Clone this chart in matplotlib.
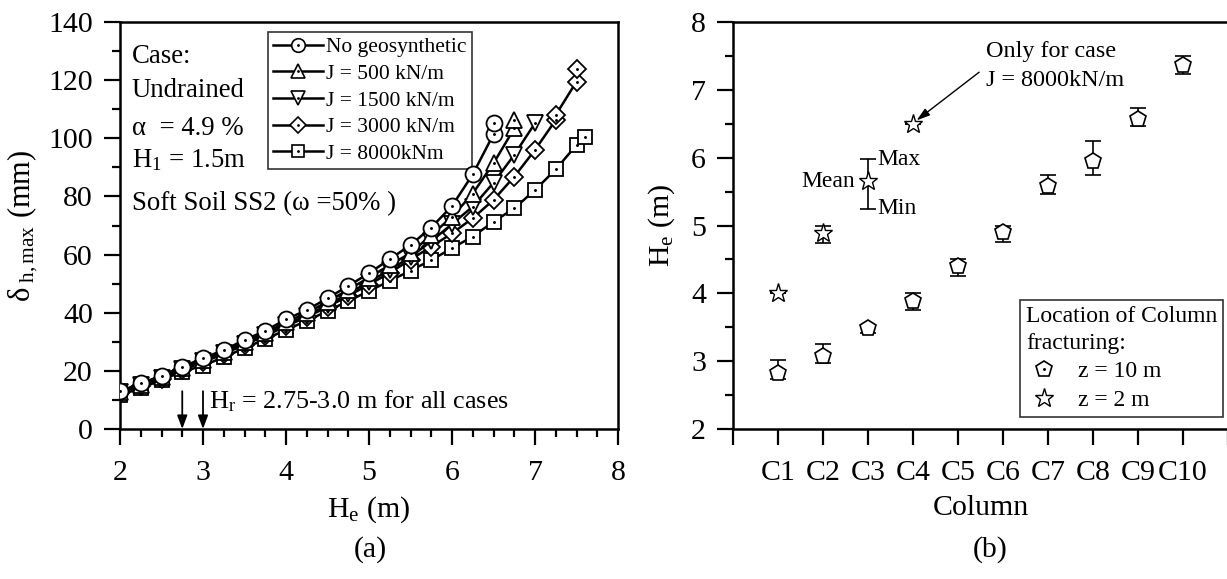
import matplotlib
matplotlib.use('Agg')
import matplotlib.pyplot as plt
from matplotlib.lines import Line2D
from matplotlib.ticker import MultipleLocator, FixedLocator

plt.rcParams['font.family'] = ['Liberation Serif', 'DejaVu Serif']
plt.rcParams['mathtext.fontset'] = 'custom'
plt.rcParams['mathtext.rm'] = 'Liberation Serif'
plt.rcParams['mathtext.it'] = 'Liberation Serif:italic'
plt.rcParams['mathtext.default'] = 'regular'

# ---------------- data: panel (a) ----------------
he_none = [2.0, 2.25, 2.5, 2.75, 3.0, 3.25, 3.5, 3.75, 4.0, 4.25, 4.5, 4.75, 5.0,
           5.25, 5.5, 5.75, 6.0, 6.25, 6.5, 6.5]
d_none = [13.0, 15.7, 18.3, 21.4, 24.3, 27.2, 30.6, 33.8, 37.7, 40.9, 45.0, 49.2,
          53.6, 58.4, 63.3, 69.3, 76.7, 87.6, 101.4, 105.4]

he_j500 = [2.0, 2.25, 2.5, 2.75, 3.0, 3.25, 3.5, 3.75, 4.0, 4.25, 4.5, 4.75, 5.0,
           5.25, 5.5, 5.75, 6.0, 6.25, 6.5, 6.75, 6.75]
d_j500 = [12.8, 15.3, 17.8, 20.9, 23.7, 26.6, 29.9, 33.0, 36.7, 39.9, 43.8, 47.9,
          52.1, 56.4, 60.5, 66.7, 73.0, 81.0, 91.4, 103.4, 106.3]

he_j1500 = [2.0, 2.25, 2.5, 2.75, 3.0, 3.25, 3.5, 3.75, 4.0, 4.25, 4.5, 4.75, 5.0,
            5.25, 5.5, 5.75, 6.0, 6.25, 6.5, 6.75, 7.0]
d_j1500 = [12.6, 15.0, 17.5, 20.5, 23.3, 26.1, 29.3, 32.4, 35.9, 39.0, 42.7, 46.6,
           50.6, 54.7, 59.2, 64.6, 70.5, 76.5, 84.7, 94.3, 105.2]

he_j3000 = [2.0, 2.25, 2.5, 2.75, 3.0, 3.25, 3.5, 3.75, 4.0, 4.25, 4.5, 4.75, 5.0,
            5.25, 5.5, 5.75, 6.0, 6.25, 6.5, 6.75, 7.0, 7.25, 7.25, 7.5, 7.5]
d_j3000 = [12.5, 14.8, 17.2, 20.2, 23.0, 25.8, 29.0, 32.0, 35.4, 38.5, 42.0, 45.8,
           49.7, 53.7, 58.3, 62.7, 67.3, 72.5, 78.8, 86.8, 96.0, 106.3, 108.0,
           119.5, 123.7]

he_j8000 = [2.0, 2.25, 2.5, 2.75, 3.0, 3.25, 3.5, 3.75, 4.0, 4.25, 4.5, 4.75, 5.0,
            5.25, 5.5, 5.75, 6.0, 6.25, 6.5, 6.75, 7.0, 7.25, 7.5, 7.6]
d_j8000 = [11.7, 14.0, 16.9, 19.7, 21.8, 24.7, 27.8, 30.9, 34.1, 37.2, 40.6, 44.0,
           47.5, 50.9, 54.5, 58.1, 62.2, 66.2, 71.3, 75.9, 82.2, 89.3, 97.7, 100.3]

series_labels = ['No geosynthetic', 'J = 500 kN/m', 'J = 1500 kN/m',
                 'J = 3000 kN/m', 'J = 8000kNm']
hr_values = [2.75, 3.0]

# ---------------- data: panel (b) ----------------
columns = ['C1', 'C2', 'C3', 'C4', 'C5', 'C6', 'C7', 'C8', 'C9', 'C10']
he10_mean = [2.83, 3.08, 3.49, 3.89, 4.40, 4.90, 5.58, 5.95, 6.57, 7.37]
he10_max = [3.01, 3.25, 3.50, 4.00, 4.51, 5.00, 5.75, 6.24, 6.73, 7.50]
he10_min = [2.73, 2.98, 3.42, 3.76, 4.26, 4.75, 5.46, 5.75, 6.46, 7.24]

columns_z2 = ['C1', 'C2', 'C3', 'C4']
he2_mean = [4.01, 4.89, 5.65, 6.49]
he2_max = [4.01, 4.99, 5.98, 6.49]
he2_min = [4.01, 4.74, 5.25, 6.49]

# ---------------- figure ----------------
W, H = 1227, 579
fig = plt.figure(figsize=(W / 100, H / 100), dpi=100)


def box(l, t, r, b):
    return [l / W, (H - b) / H, (r - l) / W, (b - t) / H]


ax1 = fig.add_axes(box(120, 22, 618, 429))
ax2 = fig.add_axes(box(733, 22, 1228, 429))

TICK = 21.5
LBL = 21.5
for ax in (ax1, ax2):
    for s in ax.spines.values():
        s.set_linewidth(1.8)
    ax.tick_params(which='major', direction='out', length=11.5, width=1.6,
                   labelsize=TICK, top=False, right=False)
    ax.tick_params(which='minor', direction='out', length=6, width=1.6,
                   top=False, right=False)
    ax.tick_params(axis='x', which='major', pad=11)
    ax.tick_params(axis='y', which='major', pad=8)

# ---- panel (a) ----
styles = [('o', 11.5), ('^', 11.5), ('v', 11.5), ('D', 9.5), ('s', 10.0)]
xs = [he_none, he_j500, he_j1500, he_j3000, he_j8000]
ys = [d_none, d_j500, d_j1500, d_j3000, d_j8000]
handles = []
for i in range(4, -1, -1):
    m, ms = styles[i]
    ax1.plot(xs[i], ys[i], color='black', lw=1.8, marker=m, ms=ms,
             mfc='white', mec='black', mew=1.3, zorder=3 + (4 - i))
    ax1.plot(xs[i], ys[i], ls='none', marker='.', ms=2.2, color='black',
             zorder=3 + (4 - i))
for i in range(5):
    m, ms = styles[i]
    h_line = Line2D([], [], color='black', lw=1.8, marker=m, ms=ms * 0.85,
                    mfc='white', mec='black', mew=1.2)
    h_dot = Line2D([], [], ls='none', marker='.', ms=2.0, color='black')
    handles.append((h_line, h_dot))

leg = ax1.legend(handles, series_labels, loc='upper left',
                 bbox_to_anchor=((268 - 120) / 498, (429 - 32) / 407),
                 fontsize=15.5, frameon=True, fancybox=False, edgecolor='black',
                 handlelength=2.3, handletextpad=0.15, labelspacing=0.3,
                 borderpad=0.25, borderaxespad=0.0)
leg.get_frame().set_linewidth(1.2)

ax1.set_xlim(2, 8)
ax1.set_ylim(0, 140)
ax1.xaxis.set_major_locator(MultipleLocator(1))
ax1.xaxis.set_minor_locator(MultipleLocator(0.25))
ax1.yaxis.set_major_locator(MultipleLocator(20))
ax1.yaxis.set_minor_locator(MultipleLocator(10))
ax1.set_xlabel('H$_\\mathrm{e}$ (m)', fontsize=LBL, labelpad=6)
ax1.set_ylabel('δ$_\\mathrm{\\ h,max}$ (mm)', fontsize=22, labelpad=6)

def ax1pos(px, py):
    return ((px - 120) / 498, (429 - py) / 407)

info = [('Case:', 63), ('Undrained', 97), ('α  = 4.9 %', 135),
        ('H$_\\mathrm{1}$ = 1.5m', 167), ('Soft Soil SS2 (ω =50% )', 210)]
for txt, by in info:
    ax1.text(*ax1pos(132, by), txt, transform=ax1.transAxes, fontsize=19.3,
             va='baseline', ha='left')

for xv in hr_values:
    ax1.annotate('', xy=(xv, 0), xytext=(xv, 13),
                 arrowprops=dict(arrowstyle='-|>,head_length=0.8,head_width=0.3',
                                 color='black', lw=1.3, shrinkA=0, shrinkB=0))
ax1.text(3.07, 9.5, 'H$_\\mathrm{r}$ = 2.75-3.0 m for all cases', fontsize=18.8,
         va='center', ha='left')

fig.text(370 / W, 1 - 550 / H, '(a)', fontsize=LBL, ha='center', va='center')

# ---- panel (b) ----
pos10 = [columns.index(c) + 1 for c in columns]
pos2 = [columns.index(c) + 1 for c in columns_z2]
err10 = [[m - lo for m, lo in zip(he10_mean, he10_min)],
         [hi - m for m, hi in zip(he10_mean, he10_max)]]
err2 = [[m - lo for m, lo in zip(he2_mean, he2_min)],
        [hi - m for m, hi in zip(he2_mean, he2_max)]]
ax2.errorbar(pos10, he10_mean, yerr=err10, fmt='none', ecolor='black',
             elinewidth=1.2, capsize=5.5, capthick=1.2, zorder=2)
ax2.errorbar(pos2, he2_mean, yerr=err2, fmt='none', ecolor='black',
             elinewidth=1.2, capsize=5.5, capthick=1.2, zorder=2)
ax2.plot(pos10, he10_mean, ls='none', marker='p', ms=12, mfc='white',
         mec='black', mew=1.2, zorder=3)
ax2.plot(pos2, he2_mean, ls='none', marker='*', ms=14, mfc='white',
         mec='black', mew=1.0, zorder=3)

ax2.set_xlim(0, 11)
ax2.set_ylim(2, 8)
ax2.xaxis.set_major_locator(FixedLocator(list(range(0, 12))))
ax2.set_xticklabels([''] + columns + [''])
ax2.yaxis.set_major_locator(MultipleLocator(1))
ax2.yaxis.set_minor_locator(MultipleLocator(0.5))
ax2.set_xlabel('Column', fontsize=LBL, labelpad=6)
ax2.set_ylabel('H$_\\mathrm{e}$ (m)', fontsize=LBL, labelpad=10)

ax2.text(3.2, 5.98, 'Max', fontsize=17, ha='left', va='center')
ax2.text(3.2, 5.25, 'Min', fontsize=17, ha='left', va='center')
ax2.text(2.72, 5.65, 'Mean', fontsize=17, ha='right', va='center')
ax2.text(5.62, 7.49, 'Only for case', fontsize=17.4, ha='left', va='baseline')
ax2.text(5.62, 7.05, 'J = 8000kN/m', fontsize=17.4, ha='left', va='baseline')
ax2.annotate('', xy=(4.08, 6.55), xytext=(5.47, 7.26),
             arrowprops=dict(arrowstyle='-|>,head_length=0.8,head_width=0.25',
                             color='black', lw=1.0, shrinkA=0, shrinkB=0))

h10 = (Line2D([], [], ls='none', marker='p', ms=12, mfc='white', mec='black',
              mew=1.2),
       Line2D([], [], ls='none', marker='.', ms=2.2, color='black'))
h2 = Line2D([], [], ls='none', marker='*', ms=14, mfc='white', mec='black',
            mew=1.0)
leg2 = ax2.legend([h10, h2], ['z = 10 m', 'z = 2 m'], loc='lower right',
                  bbox_to_anchor=((1223 - 733) / 495, (429 - 417) / 407),
                  title='Location of Column\nfracturing:', title_fontsize=17,
                  fontsize=17, frameon=True, fancybox=False, edgecolor='black',
                  handlelength=1.5, handletextpad=0.7, labelspacing=0.3,
                  borderpad=0.25, borderaxespad=0.0, alignment='left')
leg2.get_frame().set_linewidth(1.2)
leg2.get_title().set_linespacing(1.35)

fig.text(990 / W, 1 - 550 / H, '(b)', fontsize=LBL, ha='center', va='center')

fig.savefig('out.png', dpi=100)
